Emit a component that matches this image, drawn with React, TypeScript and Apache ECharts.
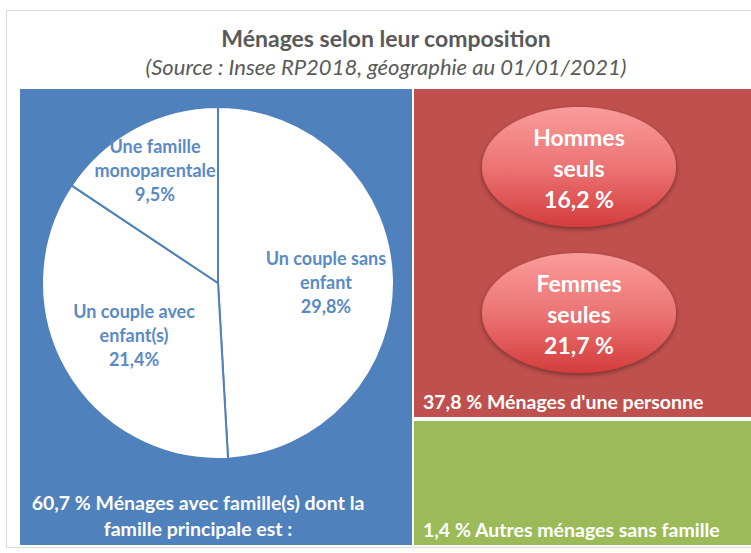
import { useEffect, useRef } from 'react';
import * as echarts from 'echarts';

const titleText = 'Ménages selon leur composition';
const subtitleText = '(Source : Insee RP2018, géographie au 01/01/2021)';

const pieCategories = ['Un couple sans\nenfant', 'Un couple avec\nenfant(s)', 'Une famille\nmonoparentale'];
const pieValues = [29.8, 21.4, 9.5];
const pieLabelOffsets = [[17, 2], [-5, 7], [-20, -33]];

const familyTotal = 60.7;
const familyText = 'Ménages avec famille(s) dont la\nfamille principale est :';
const onePersonTotal = 37.8;
const onePersonText = "Ménages d'une personne";
const singleCategories = ['Hommes\nseuls', 'Femmes\nseules'];
const singleValues = [16.2, 21.7];
const otherTotal = 1.4;
const otherText = 'Autres ménages sans famille';

const fmt = (v: number) => v.toFixed(1).replace('.', ',');
const FONT = 'Lato, "Open Sans", sans-serif';

const BLUE = '#4F81BD';
const RED = '#C0504D';
const GREEN = '#9BBB59';

export default function App() {
  const ref = useRef<HTMLDivElement>(null);
  useEffect(() => {
    document.body.style.margin = '0';
    const chart = echarts.init(ref.current!, null, { renderer: 'svg' });
    const ellipseCenters = [[579, 167], [579, 313]];
    const ellipses: any[] = [];
    singleCategories.forEach((c, i) => {
      const [cx, cy] = ellipseCenters[i];
      ellipses.push({
        type: 'ellipse',
        z: 5,
        shape: { cx, cy, rx: 97, ry: 60 },
        style: {
          fill: new echarts.graphic.LinearGradient(0, 0, 0, 1, [
            { offset: 0, color: '#FA9C9C' },
            { offset: 0.5, color: '#EC7474' },
            { offset: 1, color: '#D43C3C' },
          ]),
          shadowBlur: 5,
          shadowOffsetY: 2,
          shadowColor: 'rgba(0,0,0,0.4)',
        },
      });
      ellipses.push({
        type: 'text',
        z: 6,
        x: cx,
        y: cy + 1,
        style: {
          text: c + '\n' + fmt(singleValues[i]) + ' %',
          fill: '#FFFFFF',
          font: `bold 23px ${FONT}`,
          lineHeight: 31,
          align: 'center',
          verticalAlign: 'middle',
        },
      });
    });

    chart.setOption({
      animation: false,
      graphic: [
        {
          type: 'rect',
          z: 0,
          shape: { x: 6.5, y: 10.5, width: 800, height: 537 },
          style: { fill: '#FFFFFF', stroke: '#D9D9D9', lineWidth: 1 },
        },
        {
          type: 'text',
          z: 6,
          x: 386,
          y: 38,
          style: {
            text: titleText,
            fill: '#595959',
            font: `bold 23px ${FONT}`,
            align: 'center',
            verticalAlign: 'middle',
          },
        },
        {
          type: 'text',
          z: 6,
          x: 386,
          y: 66,
          style: {
            text: subtitleText,
            fill: '#595959',
            font: `italic 22px ${FONT}`,
            align: 'center',
            verticalAlign: 'middle',
          },
        },
        { type: 'rect', z: 1, shape: { x: 20, y: 89, width: 392, height: 456 }, style: { fill: BLUE } },
        { type: 'rect', z: 1, shape: { x: 414, y: 89, width: 340, height: 328 }, style: { fill: RED } },
        { type: 'rect', z: 1, shape: { x: 414, y: 421, width: 340, height: 124 }, style: { fill: GREEN } },
        ...ellipses,
        {
          type: 'text',
          z: 6,
          x: 198,
          y: 515,
          style: {
            text: fmt(familyTotal) + ' % ' + familyText,
            fill: '#FFFFFF',
            font: `bold 19.5px ${FONT}`,
            lineHeight: 26,
            align: 'center',
            verticalAlign: 'middle',
          },
        },
        {
          type: 'text',
          z: 6,
          x: 423,
          y: 401,
          style: {
            text: fmt(onePersonTotal) + ' % ' + onePersonText,
            fill: '#FFFFFF',
            font: `bold 19.5px ${FONT}`,
            align: 'left',
            verticalAlign: 'middle',
          },
        },
        {
          type: 'text',
          z: 6,
          x: 423,
          y: 529,
          style: {
            text: fmt(otherTotal) + ' % ' + otherText,
            fill: '#FFFFFF',
            font: `bold 19.5px ${FONT}`,
            align: 'left',
            verticalAlign: 'middle',
          },
        },
      ],
      series: [
        {
          type: 'pie',
          z: 3,
          center: [218, 283],
          radius: 176,
          startAngle: 90,
          clockwise: true,
          silent: true,
          itemStyle: { color: '#FFFFFF', borderColor: BLUE, borderWidth: 2 },
          label: {
            show: true,
            position: 'inside',
            color: '#5A8AC6',
            fontFamily: FONT,
            fontWeight: 'bold',
            fontSize: 18,
            lineHeight: 24,
            align: 'center',
            formatter: (p: any) => p.name + '\n' + fmt(p.value) + '%',
          },
          labelLine: { show: false },
          emphasis: { disabled: true },
          data: pieCategories.map((name, i) => ({
            name,
            value: pieValues[i],
            label: { offset: pieLabelOffsets[i] },
          })),
        },
      ],
    });
    return () => chart.dispose();
  }, []);
  return <div ref={ref} style={{ width: 751, height: 553 }} />;
}
